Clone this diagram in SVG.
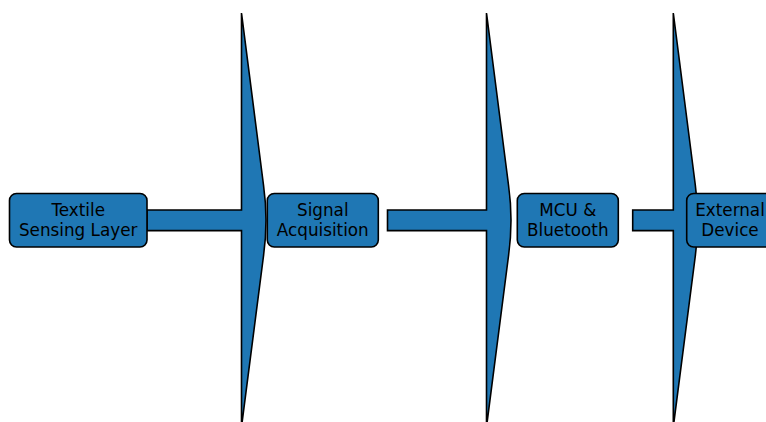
<svg xmlns="http://www.w3.org/2000/svg" width="766" height="422" viewBox="0 0 766 422">
<style>
.arrow{fill:#1f77b4;stroke:#000;stroke-width:1.6;stroke-linejoin:miter}
.box{fill:#1f77b4;stroke:#000;stroke-width:1.6}
.lbl{font-family:"DejaVu Sans",sans-serif;font-size:16.8px;fill:#000;text-anchor:middle}
</style>
<rect width="766" height="422" fill="#fff"/>
<g id="connectors">
<path class="arrow" d="M147,210 L241.5,210 L241.5,13 L263.5,185 Q266,203 266,220.3 Q266,238 263.5,256 L241.5,427 L241.5,230.6 L147,230.6 Z"/>
<path class="arrow" d="M387.5,210 L486.5,210 L486.5,13 L508.5,185 Q511,203 511,220.3 Q511,238 508.5,256 L486.5,427 L486.5,230.6 L387.5,230.6 Z"/>
<path class="arrow" d="M632.7,210 L673.3,210 L673.3,13 L695.3,185 Q697.8,203 697.8,220.3 Q697.8,238 695.3,256 L673.3,427 L673.3,230.6 L632.7,230.6 Z"/>
</g>
<g id="textile">
<rect class="box" x="9.5" y="193.5" width="137.5" height="53.5" rx="7"/>
<text class="lbl" x="78.2" y="215.8">Textile</text>
<text class="lbl" x="78.2" y="235.8">Sensing Layer</text>
</g>
<g id="signal">
<rect class="box" x="267.3" y="193.5" width="111" height="53.5" rx="7"/>
<text class="lbl" x="322.8" y="215.8">Signal</text>
<text class="lbl" x="322.8" y="235.8">Acquisition</text>
</g>
<g id="mcu">
<rect class="box" x="517.3" y="193.5" width="101" height="53.5" rx="7"/>
<text class="lbl" x="567.8" y="215.8">MCU &amp;</text>
<text class="lbl" x="567.8" y="235.8">Bluetooth</text>
</g>
<g id="external">
<rect class="box" x="686.7" y="193.5" width="87" height="53.5" rx="7"/>
<text class="lbl" x="730" y="215.8">External</text>
<text class="lbl" x="730" y="235.8">Device</text>
</g>
</svg>
